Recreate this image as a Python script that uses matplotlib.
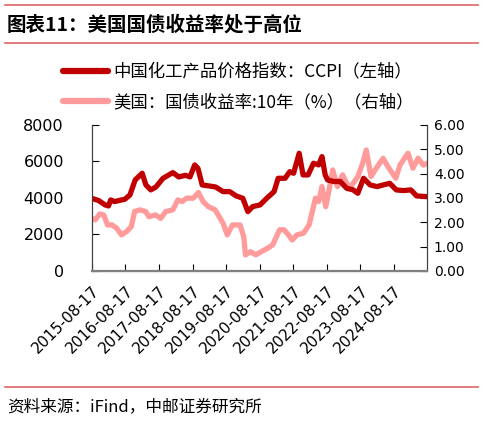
import pandas as pd
import matplotlib
matplotlib.use("Agg")
import matplotlib.pyplot as plt
import matplotlib.dates as mdates
from matplotlib.lines import Line2D

# CCPI, left axis
ccpi_dates = ["2015-08-17", "2015-11-01", "2016-01-10", "2016-02-15", "2016-03-10",
              "2016-04-20", "2016-06-01", "2016-08-10", "2016-10-05", "2016-12-01",
              "2017-02-15", "2017-03-28", "2017-05-20", "2017-07-15", "2017-09-30",
              "2018-01-15", "2018-03-20", "2018-06-01", "2018-07-20", "2018-09-10",
              "2018-10-15", "2018-11-30", "2019-02-20", "2019-04-25", "2019-07-15",
              "2019-09-25", "2019-12-05", "2020-02-15", "2020-04-10", "2020-06-01",
              "2020-08-20", "2020-11-01", "2021-01-20", "2021-03-05", "2021-05-20",
              "2021-07-10", "2021-08-20", "2021-10-20", "2021-12-01", "2022-01-25",
              "2022-03-25", "2022-05-20", "2022-06-25", "2022-07-30", "2022-08-25",
              "2022-10-30", "2023-01-10", "2023-03-20", "2023-05-30", "2023-07-20",
              "2023-09-20", "2023-12-01", "2024-02-15", "2024-04-20", "2024-07-01",
              "2024-09-10", "2024-11-25", "2025-02-15", "2025-04-20", "2025-08-10"]
ccpi_vals = [3980, 3850, 3615, 3560, 3890, 3800, 3850, 3925, 4160, 4985,
             5350, 4710, 4440, 4600, 5076, 5387, 5150, 5240, 5150, 5807,
             5620, 4710, 4650, 4600, 4346, 4346, 4110, 3980, 3250, 3525,
             3615, 3980, 4346, 5076, 5076, 5440, 5350, 6446, 5260, 5260,
             5900, 5810, 6263, 5260, 4985, 4900, 4900, 4530, 4440, 4255,
             5076, 4710, 4620, 4710, 4800, 4440, 4400, 4440, 4110, 4070]

# US 10Y treasury yield (%), right axis
ust_dates = ["2015-08-17", "2015-09-25", "2015-11-10", "2015-12-25", "2016-02-05",
             "2016-03-25", "2016-05-15", "2016-07-05", "2016-08-30", "2016-10-20",
             "2016-11-25", "2017-01-20", "2017-03-25", "2017-04-30", "2017-07-10",
             "2017-09-05", "2017-10-30", "2018-01-15", "2018-03-10", "2018-04-25",
             "2018-06-15", "2018-08-25", "2018-10-20", "2018-12-10", "2019-02-05",
             "2019-04-20", "2019-07-15", "2019-08-30", "2019-10-25", "2020-01-15",
             "2020-02-25", "2020-03-15", "2020-05-10", "2020-07-05", "2020-09-01",
             "2020-11-10", "2021-01-05", "2021-03-20", "2021-05-10", "2021-06-25",
             "2021-08-05", "2021-09-25", "2021-12-05", "2022-02-05", "2022-04-15",
             "2022-05-20", "2022-06-25", "2022-08-05", "2022-09-10", "2022-10-20",
             "2022-12-10", "2023-02-05", "2023-03-25", "2023-05-05", "2023-07-20",
             "2023-09-10", "2023-10-20", "2023-12-10", "2024-02-05", "2024-04-20",
             "2024-06-10", "2024-09-05", "2024-10-20", "2025-01-15", "2025-03-10",
             "2025-05-05", "2025-07-01", "2025-08-10"]
ust_vals = [2.16, 2.10, 2.34, 2.30, 1.89, 1.89, 1.75, 1.48, 1.62, 1.82,
            2.44, 2.51, 2.44, 2.23, 2.30, 2.16, 2.44, 2.51, 2.92, 2.85,
            2.99, 2.99, 3.22, 2.85, 2.64, 2.51, 1.96, 1.48, 1.89, 1.89,
            1.41, 0.66, 0.79, 0.66, 0.79, 0.93, 1.07, 1.69, 1.69, 1.48,
            1.27, 1.48, 1.55, 1.89, 2.99, 2.85, 3.47, 2.64, 3.33, 4.15,
            3.47, 3.95, 3.55, 3.47, 3.88, 4.42, 4.97, 3.88, 4.22, 4.63,
            4.29, 3.81, 4.35, 4.84, 4.22, 4.63, 4.35, 4.42]

tick_dates = ["2015-08-17", "2016-08-17", "2017-08-17", "2018-08-17", "2019-08-17",
              "2020-08-17", "2021-08-17", "2022-08-17", "2023-08-17", "2024-08-17"]

label_ccpi = "中国化工产品价格指数：CCPI（左轴）"
label_ust = "美国：国债收益率:10年（%）（右轴）"
title = "图表11：美国国债收益率处于高位"
source = "资料来源：iFind，中邮证券研究所"

dark_red = "#C00000"
pink = "#FF9B9B"
cjk = ["Noto Sans CJK SC", "DejaVu Sans"]

fig = plt.figure(figsize=(4.83, 4.22), dpi=100)
ax = fig.add_axes([0.19, 0.358, 0.694, 0.346])
ax2 = ax.twinx()

ax2.plot(pd.to_datetime(ust_dates), ust_vals, color=pink, lw=3.8, solid_capstyle="round")
ax.plot(pd.to_datetime(ccpi_dates), ccpi_vals, color=dark_red, lw=3.8, solid_capstyle="round")
ax.set_zorder(ax2.get_zorder() + 1)
ax.patch.set_visible(False)

ax.set_xlim(pd.Timestamp("2015-08-17"), pd.Timestamp("2025-08-10"))
ax.set_ylim(0, 8000)
ax.set_yticks([0, 2000, 4000, 6000, 8000])
ax2.set_ylim(0, 6)
ax2.set_yticks([0, 1, 2, 3, 4, 5, 6])
ax2.set_yticklabels(["%.2f" % v for v in [0, 1, 2, 3, 4, 5, 6]])

ax.set_xticks(pd.to_datetime(tick_dates))
ax.xaxis.set_major_formatter(mdates.DateFormatter("%Y-%m-%d"))
for lab in ax.get_xticklabels():
    lab.set_rotation(45)
    lab.set_ha("right")
    lab.set_rotation_mode("anchor")

for a in (ax, ax2):
    a.spines["top"].set_visible(False)
    for s in ("left", "right", "bottom"):
        a.spines[s].set_color("#404040")
        a.spines[s].set_linewidth(0.8)
ax.spines["bottom"].set_color("#808080")
ax.spines["bottom"].set_linewidth(1.6)

ax.tick_params(axis="y", direction="in", length=5, pad=20, labelsize=11.5, colors="black")
ax.tick_params(axis="x", direction="in", length=5, pad=9, labelsize=11, colors="black")
ax2.tick_params(axis="y", direction="in", length=5, pad=5, labelsize=10, colors="black")

# legend
handles = [Line2D([], [], color=dark_red, lw=4.5, solid_capstyle="round"),
           Line2D([], [], color=pink, lw=4.5, solid_capstyle="round")]
fig.legend(handles, [label_ccpi, label_ust], loc="upper left",
           bbox_to_anchor=(0.112, 0.872), frameon=False, handlelength=2.6,
           handletextpad=0.3, labelspacing=0.7, borderpad=0,
           prop={"family": cjk, "size": 12.5})

# title, separators and source
line_col = "#E06666"
for yy in (0.988, 0.898, 0.083):
    fig.add_artist(Line2D([0.01, 0.99], [yy, yy], color=line_col, lw=1.2))
fig.text(0.014, 0.941, title, family=cjk, fontsize=14, fontweight="bold",
         va="center", ha="left")
fig.text(0.014, 0.036, source, family=cjk, fontsize=12, va="center", ha="left")

fig.savefig("out.png", dpi=100)
